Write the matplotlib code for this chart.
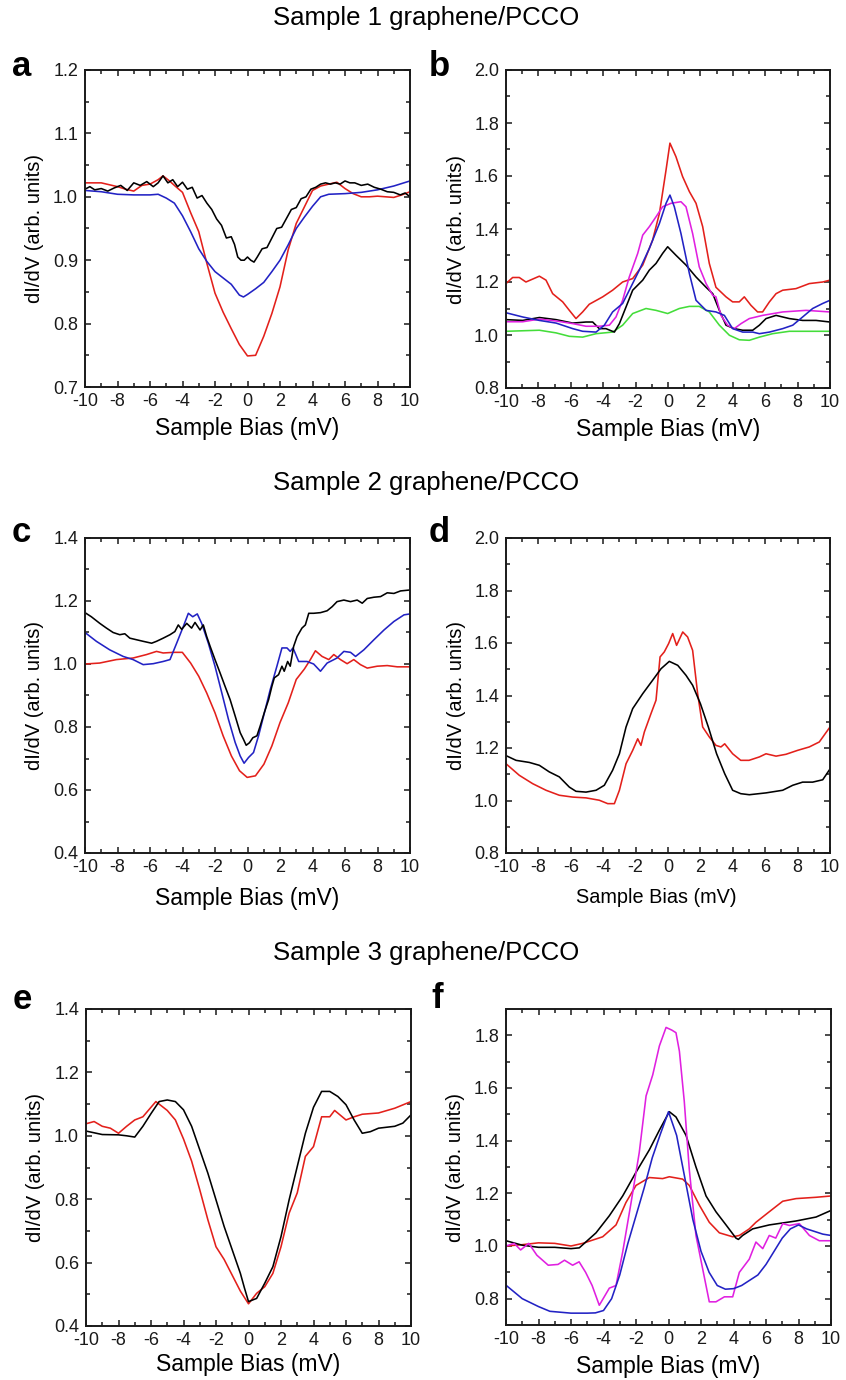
import matplotlib
matplotlib.use("Agg")
import matplotlib.pyplot as plt
from matplotlib.ticker import MultipleLocator, FormatStrFormatter

plt.rcParams['font.family'] = ['Liberation Sans', 'DejaVu Sans']
plt.rcParams['axes.unicode_minus'] = False

# ---------------- data (Sample Bias in mV, dI/dV in arb. units) ----------------
# Panel a
a_black_x = [-10, -9.7, -9.4, -9, -8.6, -8.2, -7.8, -7.4, -7, -6.6, -6.2, -5.8, -5.5, -5.2, -4.9, -4.6, -4.3, -4.0,
             -3.7, -3.4, -3.1, -2.8, -2.5, -2.2, -1.9, -1.6, -1.3, -1.0, -0.8, -0.6, -0.4, -0.2, 0, 0.2, 0.4, 0.6,
             0.9, 1.2, 1.5, 1.8, 2.1, 2.4, 2.7, 3.0, 3.3, 3.6, 3.9, 4.2, 4.5, 4.8, 5.1, 5.4, 5.7, 6.0, 6.3, 6.6,
             7.0, 7.4, 7.8, 8.2, 8.6, 9.0, 9.4, 9.7, 10]
a_black_y = [1.012, 1.016, 1.011, 1.013, 1.009, 1.014, 1.018, 1.010, 1.022, 1.018, 1.024, 1.016, 1.022, 1.033, 1.022,
             1.027, 1.016, 1.023, 1.012, 1.015, 0.998, 1.002, 0.990, 0.980, 0.965, 0.955, 0.935, 0.937, 0.925, 0.905,
             0.900, 0.900, 0.905, 0.900, 0.897, 0.905, 0.918, 0.920, 0.935, 0.950, 0.952, 0.966, 0.980, 0.983, 0.997,
             1.000, 1.012, 1.015, 1.020, 1.022, 1.020, 1.022, 1.020, 1.025, 1.022, 1.022, 1.018, 1.020, 1.015, 1.012,
             1.008, 1.007, 1.003, 1.006, 1.000]
a_blue_x = [-10, -9, -8, -7, -6, -5.5, -5, -4.5, -4, -3.5, -3, -2.5, -2, -1.5, -1, -0.5, -0.25, 0, 0.5, 1, 1.5, 2,
            2.5, 3, 3.5, 4, 4.5, 5, 6, 7, 8, 9, 10]
a_blue_y = [1.010, 1.008, 1.004, 1.003, 1.003, 1.004, 0.998, 0.990, 0.970, 0.945, 0.918, 0.898, 0.882, 0.872, 0.862,
            0.845, 0.842, 0.846, 0.855, 0.865, 0.882, 0.900, 0.924, 0.950, 0.968, 0.985, 1.000, 1.004, 1.005, 1.007,
            1.011, 1.017, 1.025]
a_red_x = [-10, -9, -8, -7.5, -7, -6.5, -6, -5.5, -5.2, -4.8, -4.5, -4, -3.5, -3, -2.5, -2, -1.5, -1, -0.5, 0, 0.5,
           1, 1.5, 2, 2.5, 3, 3.5, 4, 4.5, 5, 5.5, 6, 6.5, 7, 7.5, 8, 8.5, 9, 9.5, 10]
a_red_y = [1.022, 1.022, 1.016, 1.012, 1.009, 1.018, 1.020, 1.027, 1.033, 1.025, 1.018, 1.007, 0.975, 0.945, 0.895,
           0.848, 0.818, 0.792, 0.767, 0.749, 0.750, 0.780, 0.816, 0.858, 0.916, 0.958, 0.984, 1.010, 1.017, 1.020,
           1.023, 1.013, 1.005, 1.000, 1.000, 1.001, 1.000, 0.999, 1.003, 1.008]

# Panel b
b_red_x = [-10, -9.59, -9.18, -8.77, -7.94, -7.53, -7.12, -6.5, -6.09, -5.68, -5.27, -4.86, -4.03, -3.42, -2.8,
           -2.18, -1.56, -0.95, -0.53, -0.12, 0.12, 0.49, 0.9, 1.32, 1.73, 2.14, 2.55, 2.96, 3.58, 3.99, 4.4, 4.71,
           5.12, 5.53, 5.84, 6.26, 6.67, 7.08, 7.9, 8.72, 9.55, 10]
b_red_y = [1.194, 1.217, 1.217, 1.200, 1.222, 1.207, 1.156, 1.125, 1.093, 1.062, 1.087, 1.116, 1.144, 1.169, 1.200,
           1.213, 1.264, 1.358, 1.459, 1.623, 1.724, 1.673, 1.598, 1.541, 1.497, 1.409, 1.270, 1.180, 1.144, 1.125,
           1.125, 1.144, 1.112, 1.087, 1.087, 1.125, 1.156, 1.169, 1.175, 1.194, 1.200, 1.207]
b_blue_x = [-10, -8.97, -7.94, -6.91, -5.88, -5.27, -4.44, -3.93, -3.42, -2.8, -2.39, -1.77, -1.15, -0.53, -0.12,
            0.12, 0.39, 0.8, 1.32, 1.73, 2.35, 2.96, 3.48, 3.99, 4.61, 5.23, 5.64, 6.26, 7.08, 7.7, 8.31, 8.93, 9.55,
            10]
b_blue_y = [1.084, 1.068, 1.055, 1.045, 1.024, 1.014, 1.011, 1.037, 1.087, 1.119, 1.169, 1.245, 1.327, 1.421, 1.497,
            1.528, 1.484, 1.383, 1.232, 1.131, 1.093, 1.087, 1.074, 1.024, 1.011, 1.011, 1.005, 1.011, 1.024, 1.037,
            1.068, 1.100, 1.119, 1.131]
b_magenta_x = [-10, -8.97, -7.94, -6.91, -5.88, -5.06, -4.24, -3.62, -3.21, -2.8, -2.39, -1.87, -1.56, -1.15, -0.74,
               -0.33, 0.19, 0.8, 1.11, 1.52, 1.93, 2.35, 2.76, 2.96, 3.27, 3.68, 4.09, 4.51, 5.02, 5.84, 7.08, 8.52,
               10]
b_magenta_y = [1.050, 1.050, 1.060, 1.053, 1.043, 1.033, 1.033, 1.037, 1.068, 1.131, 1.219, 1.308, 1.377, 1.409,
               1.446, 1.484, 1.497, 1.503, 1.484, 1.383, 1.257, 1.194, 1.150, 1.144, 1.074, 1.037, 1.024, 1.043,
               1.062, 1.074, 1.087, 1.093, 1.087]
b_black_x = [-10, -8.97, -7.94, -6.91, -5.88, -5.06, -4.65, -4.24, -3.83, -3.31, -3.0, -2.59, -2.18, -1.56, -1.15,
             -0.74, -0.33, -0.02, 0.49, 1.11, 1.73, 2.35, 2.76, 3.17, 3.58, 4.09, 4.61, 5.23, 5.64, 6.05, 6.67, 7.49,
             8.31, 9.14, 10]
b_black_y = [1.058, 1.055, 1.066, 1.058, 1.045, 1.049, 1.049, 1.024, 1.024, 1.011, 1.043, 1.106, 1.169, 1.207, 1.245,
             1.270, 1.308, 1.333, 1.301, 1.264, 1.219, 1.180, 1.156, 1.093, 1.037, 1.024, 1.018, 1.018, 1.037, 1.062,
             1.074, 1.062, 1.055, 1.055, 1.049]
b_green_x = [-10, -7.94, -6.91, -6.09, -5.27, -4.44, -3.42, -2.8, -2.18, -1.36, -0.74, -0.02, 0.7, 1.32, 1.93, 2.55,
             3.17, 3.79, 4.4, 5.02, 5.64, 6.46, 7.49, 10]
b_green_y = [1.014, 1.018, 1.008, 0.995, 0.992, 1.005, 1.011, 1.037, 1.081, 1.100, 1.093, 1.081, 1.100, 1.108, 1.108,
             1.087, 1.037, 0.999, 0.982, 0.980, 0.992, 1.005, 1.014, 1.014]

# Panel c
c_black_x = [-10, -9.61, -9.09, -8.68, -8.27, -7.86, -7.55, -7.24, -6.83, -6.42, -5.9, -5.6, -5.19, -4.77, -4.47,
             -4.26, -4.05, -3.74, -3.44, -3.23, -2.92, -2.72, -2.51, -2.3, -2.0, -1.69, -1.38, -1.07, -0.76, -0.45,
             -0.25, -0.08, 0.12, 0.33, 0.58, 0.78, 1.03, 1.3, 1.5, 1.65, 1.91, 2.12, 2.26, 2.47, 2.63, 2.84, 3.05,
             3.35, 3.56, 3.77, 4.07, 4.49, 4.9, 5.21, 5.51, 5.93, 6.34, 6.75, 7.06, 7.37, 7.78, 8.19, 8.6, 9.01,
             9.42, 10]
c_black_y = [1.163, 1.150, 1.129, 1.114, 1.100, 1.093, 1.096, 1.082, 1.077, 1.072, 1.066, 1.072, 1.082, 1.093, 1.103,
             1.124, 1.110, 1.129, 1.114, 1.132, 1.108, 1.124, 1.087, 1.056, 1.014, 0.972, 0.929, 0.887, 0.835, 0.782,
             0.761, 0.742, 0.750, 0.766, 0.772, 0.803, 0.845, 0.887, 0.929, 0.956, 0.966, 0.993, 0.977, 1.008, 0.993,
             1.056, 1.087, 1.114, 1.124, 1.161, 1.161, 1.163, 1.169, 1.182, 1.198, 1.203, 1.198, 1.203, 1.193, 1.208,
             1.212, 1.214, 1.226, 1.224, 1.232, 1.235]
c_blue_x = [-10, -9.3, -8.48, -7.65, -7.04, -6.42, -5.8, -5.19, -4.77, -4.36, -3.95, -3.64, -3.37, -3.09, -2.82,
            -2.41, -2.0, -1.58, -1.17, -0.76, -0.45, -0.21, 0.06, 0.37, 0.68, 0.99, 1.4, 1.81, 2.12, 2.43, 2.63, 2.8,
            3.15, 3.66, 4.07, 4.49, 4.9, 5.51, 5.93, 6.34, 6.65, 7.16, 7.78, 8.4, 9.01, 9.63, 10]
c_blue_y = [1.100, 1.072, 1.045, 1.024, 1.014, 0.998, 1.001, 1.008, 1.014, 1.066, 1.119, 1.161, 1.150, 1.159, 1.129,
            1.066, 0.993, 0.908, 0.824, 0.751, 0.708, 0.685, 0.703, 0.719, 0.772, 0.835, 0.919, 0.993, 1.051, 1.051,
            1.040, 1.051, 1.008, 1.008, 1.000, 0.977, 1.003, 1.019, 1.040, 1.037, 1.024, 1.045, 1.077, 1.108, 1.135,
            1.156, 1.159]
c_red_x = [-10, -9.1, -8.07, -7.04, -6.21, -5.6, -5.19, -4.57, -4.01, -3.5, -3.0, -2.51, -2.0, -1.5, -0.99, -0.49,
           -0.02, 0.49, 1.01, 1.5, 2.0, 2.51, 3.0, 3.5, 3.87, 4.18, 4.59, 5.0, 5.31, 5.72, 6.13, 6.54, 6.95, 7.37,
           7.98, 8.6, 9.22, 10]
c_red_y = [1.000, 1.003, 1.014, 1.019, 1.030, 1.040, 1.035, 1.037, 1.037, 1.003, 0.961, 0.908, 0.845, 0.772, 0.708,
           0.661, 0.640, 0.645, 0.682, 0.740, 0.814, 0.877, 0.951, 0.984, 1.014, 1.042, 1.024, 1.014, 1.030, 1.014,
           1.001, 1.014, 0.998, 0.987, 0.993, 0.995, 0.991, 0.991]

# Panel d
d_black_x = [-10, -9.38, -8.56, -7.94, -7.33, -6.71, -6.09, -5.68, -5.06, -4.44, -3.93, -3.42, -3.0, -2.59, -2.18,
             -1.56, -0.95, -0.43, 0.08, 0.6, 1.11, 1.52, 2.0, 2.49, 3.0, 3.5, 3.99, 4.49, 5.02, 6.05, 7.08, 7.7, 8.31,
             8.93, 9.55, 10]
d_black_y = [1.171, 1.153, 1.145, 1.134, 1.109, 1.090, 1.051, 1.035, 1.032, 1.039, 1.058, 1.115, 1.178, 1.280, 1.350,
             1.407, 1.458, 1.502, 1.530, 1.515, 1.477, 1.439, 1.369, 1.280, 1.178, 1.102, 1.039, 1.026, 1.022, 1.029,
             1.039, 1.058, 1.070, 1.070, 1.079, 1.120]
d_red_x = [-10, -9.18, -8.35, -7.53, -6.71, -5.88, -5.06, -4.24, -3.72, -3.31, -3.0, -2.59, -2.18, -1.87, -1.67,
           -1.46, -1.05, -0.74, -0.49, -0.23, 0.04, 0.29, 0.53, 0.91, 1.21, 1.52, 1.83, 2.14, 2.55, 2.96, 3.27, 3.5,
           3.99, 4.49, 5.0, 5.64, 6.05, 6.67, 7.28, 8.0, 8.72, 9.34, 10]
d_red_y = [1.140, 1.096, 1.064, 1.039, 1.020, 1.013, 1.010, 1.001, 0.988, 0.988, 1.039, 1.140, 1.191, 1.235, 1.210,
           1.261, 1.331, 1.382, 1.547, 1.566, 1.598, 1.636, 1.591, 1.642, 1.623, 1.572, 1.407, 1.280, 1.242, 1.210,
           1.204, 1.216, 1.178, 1.153, 1.153, 1.166, 1.178, 1.169, 1.176, 1.191, 1.204, 1.223, 1.280]

# Panel e
e_black_x = [-10, -9, -8, -7.5, -7, -6.5, -6, -5.5, -5, -4.5, -4, -3.5, -3, -2.5, -2, -1.5, -1, -0.5, -0.25, 0, 0.5,
             1, 1.5, 2, 2.5, 3, 3.5, 4, 4.5, 5, 5.5, 6, 6.5, 7, 7.5, 8, 9, 9.5, 10]
e_black_y = [1.015, 1.004, 1.003, 1.000, 0.996, 1.030, 1.070, 1.108, 1.113, 1.108, 1.082, 1.030, 0.956, 0.882, 0.798,
             0.714, 0.640, 0.566, 0.520, 0.477, 0.487, 0.535, 0.587, 0.682, 0.798, 0.903, 1.008, 1.090, 1.140, 1.140,
             1.124, 1.098, 1.050, 1.008, 1.013, 1.024, 1.030, 1.040, 1.066]
e_red_x = [-10, -9.5, -9, -8.5, -8, -7.5, -7, -6.5, -6, -5.7, -5, -4.5, -4, -3.5, -3, -2.5, -2, -1.5, -1, -0.5, 0,
           0.5, 1, 1.5, 2, 2.5, 3, 3.5, 4, 4.5, 5, 5.3, 6, 6.5, 7, 8, 9, 10]
e_red_y = [1.038, 1.045, 1.030, 1.024, 1.008, 1.030, 1.050, 1.060, 1.090, 1.108, 1.080, 1.050, 0.990, 0.920, 0.830,
           0.735, 0.650, 0.610, 0.560, 0.510, 0.470, 0.503, 0.524, 0.566, 0.650, 0.756, 0.820, 0.935, 0.966, 1.060,
           1.060, 1.080, 1.050, 1.060, 1.068, 1.072, 1.087, 1.108]

# Panel f
f_blue_x = [-10, -9, -8, -7.3, -6, -5, -4.5, -4, -3.5, -3, -2.5, -2, -1.5, -1, -0.5, 0, 0.5, 1, 1.5, 2, 2.5, 3, 3.5,
            4, 4.5, 5, 5.5, 6, 6.5, 7, 7.5, 8, 8.5, 9, 9.5, 10]
f_blue_y = [0.851, 0.800, 0.770, 0.752, 0.745, 0.745, 0.746, 0.755, 0.800, 0.890, 1.010, 1.115, 1.220, 1.335, 1.425,
            1.510, 1.420, 1.260, 1.100, 0.980, 0.900, 0.850, 0.836, 0.838, 0.850, 0.870, 0.890, 0.930, 0.980, 1.030,
            1.065, 1.080, 1.065, 1.055, 1.045, 1.040]
f_magenta_x = [-10, -9.5, -9.1, -8.6, -8.1, -7.4, -6.8, -6.4, -5.9, -5.5, -5.1, -4.7, -4.26, -3.64, -3.23, -2.82,
               -2.3, -1.8, -1.38, -0.97, -0.56, -0.15, 0.2, 0.46, 0.67, 0.97, 1.28, 1.69, 2.1, 2.51, 2.92, 3.44, 3.95,
               4.36, 4.97, 5.38, 5.8, 6.2, 6.6, 7.03, 7.44, 8.05, 8.67, 9.28, 10]
f_magenta_y = [1.000, 1.010, 0.985, 1.010, 0.965, 0.927, 0.930, 0.946, 0.927, 0.940, 0.900, 0.850, 0.775, 0.840,
               0.850, 0.977, 1.166, 1.355, 1.570, 1.650, 1.760, 1.830, 1.820, 1.810, 1.740, 1.550, 1.290, 1.040,
               0.914, 0.788, 0.788, 0.807, 0.807, 0.900, 0.950, 1.015, 0.990, 1.040, 1.030, 1.085, 1.078, 1.085,
               1.040, 1.020, 1.020]
f_red_x = [-10, -9, -8, -7, -6, -5.28, -4.05, -3.23, -2.62, -2.0, -1.18, -0.36, 0.05, 0.87, 1.28, 1.9, 2.51, 3.13,
           3.95, 4.36, 4.97, 5.38, 6.2, 7.03, 7.85, 9.08, 10]
f_red_y = [1.000, 1.005, 1.012, 1.010, 1.000, 1.010, 1.035, 1.080, 1.165, 1.230, 1.260, 1.256, 1.263, 1.254, 1.230,
           1.155, 1.090, 1.050, 1.035, 1.040, 1.065, 1.090, 1.130, 1.170, 1.180, 1.185, 1.190]
f_black_x = [-10, -9, -8, -7, -6, -5.49, -4.46, -3.64, -2.82, -2.0, -1.18, -0.56, 0.05, 0.46, 1.08, 1.69, 2.31, 2.92,
             3.54, 4.15, 4.3, 4.56, 5.18, 6.2, 7.85, 9.08, 10]
f_black_y = [1.020, 1.003, 0.995, 0.995, 0.990, 0.993, 1.050, 1.115, 1.190, 1.280, 1.365, 1.440, 1.510, 1.490, 1.420,
             1.300, 1.190, 1.130, 1.080, 1.030, 1.025, 1.040, 1.065, 1.080, 1.095, 1.110, 1.135]

x_ticks = [-10, -8, -6, -4, -2, 0, 2, 4, 6, 8, 10]
titles = ["Sample 1 graphene/PCCO", "Sample 2 graphene/PCCO", "Sample 3 graphene/PCCO"]

RED = '#e3201b'
BLUE = '#2222c4'
BLACK = '#000000'
MAGENTA = '#e020e0'
GREEN = '#44dd3a'

W, H = 846, 1380
fig = plt.figure(figsize=(W / 100, H / 100), dpi=100)


def rect(l, t, r, b):
    return [l / W, 1 - b / H, (r - l) / W, (b - t) / H]


def setup(ax, ylim, ymajor, yminor, xlab_y=-0.095, xlab_x=0.5, xlab_size=16.5):
    ax.set_xlim(-10, 10)
    ax.set_ylim(*ylim)
    ax.set_xticks(x_ticks)
    ax.xaxis.set_minor_locator(MultipleLocator(1))
    ax.yaxis.set_major_locator(MultipleLocator(ymajor))
    ax.yaxis.set_minor_locator(MultipleLocator(yminor))
    ax.xaxis.set_major_formatter(FormatStrFormatter('%d'))
    ax.yaxis.set_major_formatter(FormatStrFormatter('%.1f'))
    ax.tick_params(which='both', direction='in', top=True, right=True, width=1.1, colors='#1a1a1a')
    ax.tick_params(which='major', length=4.5, labelsize=13)
    ax.tick_params(which='minor', length=3)
    ax.tick_params(axis='x', pad=4)
    ax.tick_params(axis='y', pad=5)
    for s in ax.spines.values():
        s.set_linewidth(1.4)
        s.set_color('#1a1a1a')
    ax.set_xlabel('Sample Bias (mV)', fontsize=xlab_size)
    ax.xaxis.set_label_coords(xlab_x, xlab_y)
    ax.set_ylabel('dI/dV (arb. units)', fontsize=14.5)
    ax.yaxis.set_label_coords(-0.125, 0.5)


lw = 1.15

ax_a = fig.add_axes(rect(85, 70, 410, 387))
ax_a.plot(a_red_x, a_red_y, color=RED, lw=lw)
ax_a.plot(a_blue_x, a_blue_y, color=BLUE, lw=lw)
ax_a.plot(a_black_x, a_black_y, color=BLACK, lw=lw)
setup(ax_a, (0.7, 1.2), 0.1, 0.05)

ax_b = fig.add_axes(rect(506, 70, 830, 388))
ax_b.plot(b_green_x, b_green_y, color=GREEN, lw=lw)
ax_b.plot(b_red_x, b_red_y, color=RED, lw=lw)
ax_b.plot(b_black_x, b_black_y, color=BLACK, lw=lw)
ax_b.plot(b_magenta_x, b_magenta_y, color=MAGENTA, lw=lw)
ax_b.plot(b_blue_x, b_blue_y, color=BLUE, lw=lw)
setup(ax_b, (0.8, 2.0), 0.2, 0.1)

ax_c = fig.add_axes(rect(85, 538, 410, 853))
ax_c.plot(c_red_x, c_red_y, color=RED, lw=lw)
ax_c.plot(c_blue_x, c_blue_y, color=BLUE, lw=lw)
ax_c.plot(c_black_x, c_black_y, color=BLACK, lw=lw)
setup(ax_c, (0.4, 1.4), 0.2, 0.1, xlab_y=-0.108)

ax_d = fig.add_axes(rect(506, 538, 830, 853))
ax_d.plot(d_red_x, d_red_y, color=RED, lw=lw)
ax_d.plot(d_black_x, d_black_y, color=BLACK, lw=lw)
setup(ax_d, (0.8, 2.0), 0.2, 0.1, xlab_y=-0.111, xlab_x=0.465, xlab_size=14.3)

ax_e = fig.add_axes(rect(86, 1009, 411, 1326))
ax_e.plot(e_red_x, e_red_y, color=RED, lw=lw)
ax_e.plot(e_black_x, e_black_y, color=BLACK, lw=lw)
setup(ax_e, (0.4, 1.4), 0.2, 0.1, xlab_y=-0.085)

ax_f = fig.add_axes(rect(506, 1009, 831, 1325))
ax_f.plot(f_red_x, f_red_y, color=RED, lw=lw)
ax_f.plot(f_black_x, f_black_y, color=BLACK, lw=lw)
ax_f.plot(f_magenta_x, f_magenta_y, color=MAGENTA, lw=lw)
ax_f.plot(f_blue_x, f_blue_y, color=BLUE, lw=lw)
setup(ax_f, (0.7, 1.9), 0.2, 0.1)
ax_f.set_yticks([0.8, 1.0, 1.2, 1.4, 1.6, 1.8])

# titles
for t, y in zip(titles, [18, 483, 953]):
    fig.text(426 / W, 1 - y / H, t, ha='center', va='center', fontsize=18.5)

# panel letters
for lab, x, y in [('a', 12, 76), ('b', 429, 76), ('c', 12, 542), ('d', 429, 542), ('e', 13, 1009), ('f', 431, 1008)]:
    fig.text(x / W, 1 - y / H, lab, ha='left', va='baseline', fontsize=25, fontweight='bold')

fig.savefig('out.png', dpi=100)
